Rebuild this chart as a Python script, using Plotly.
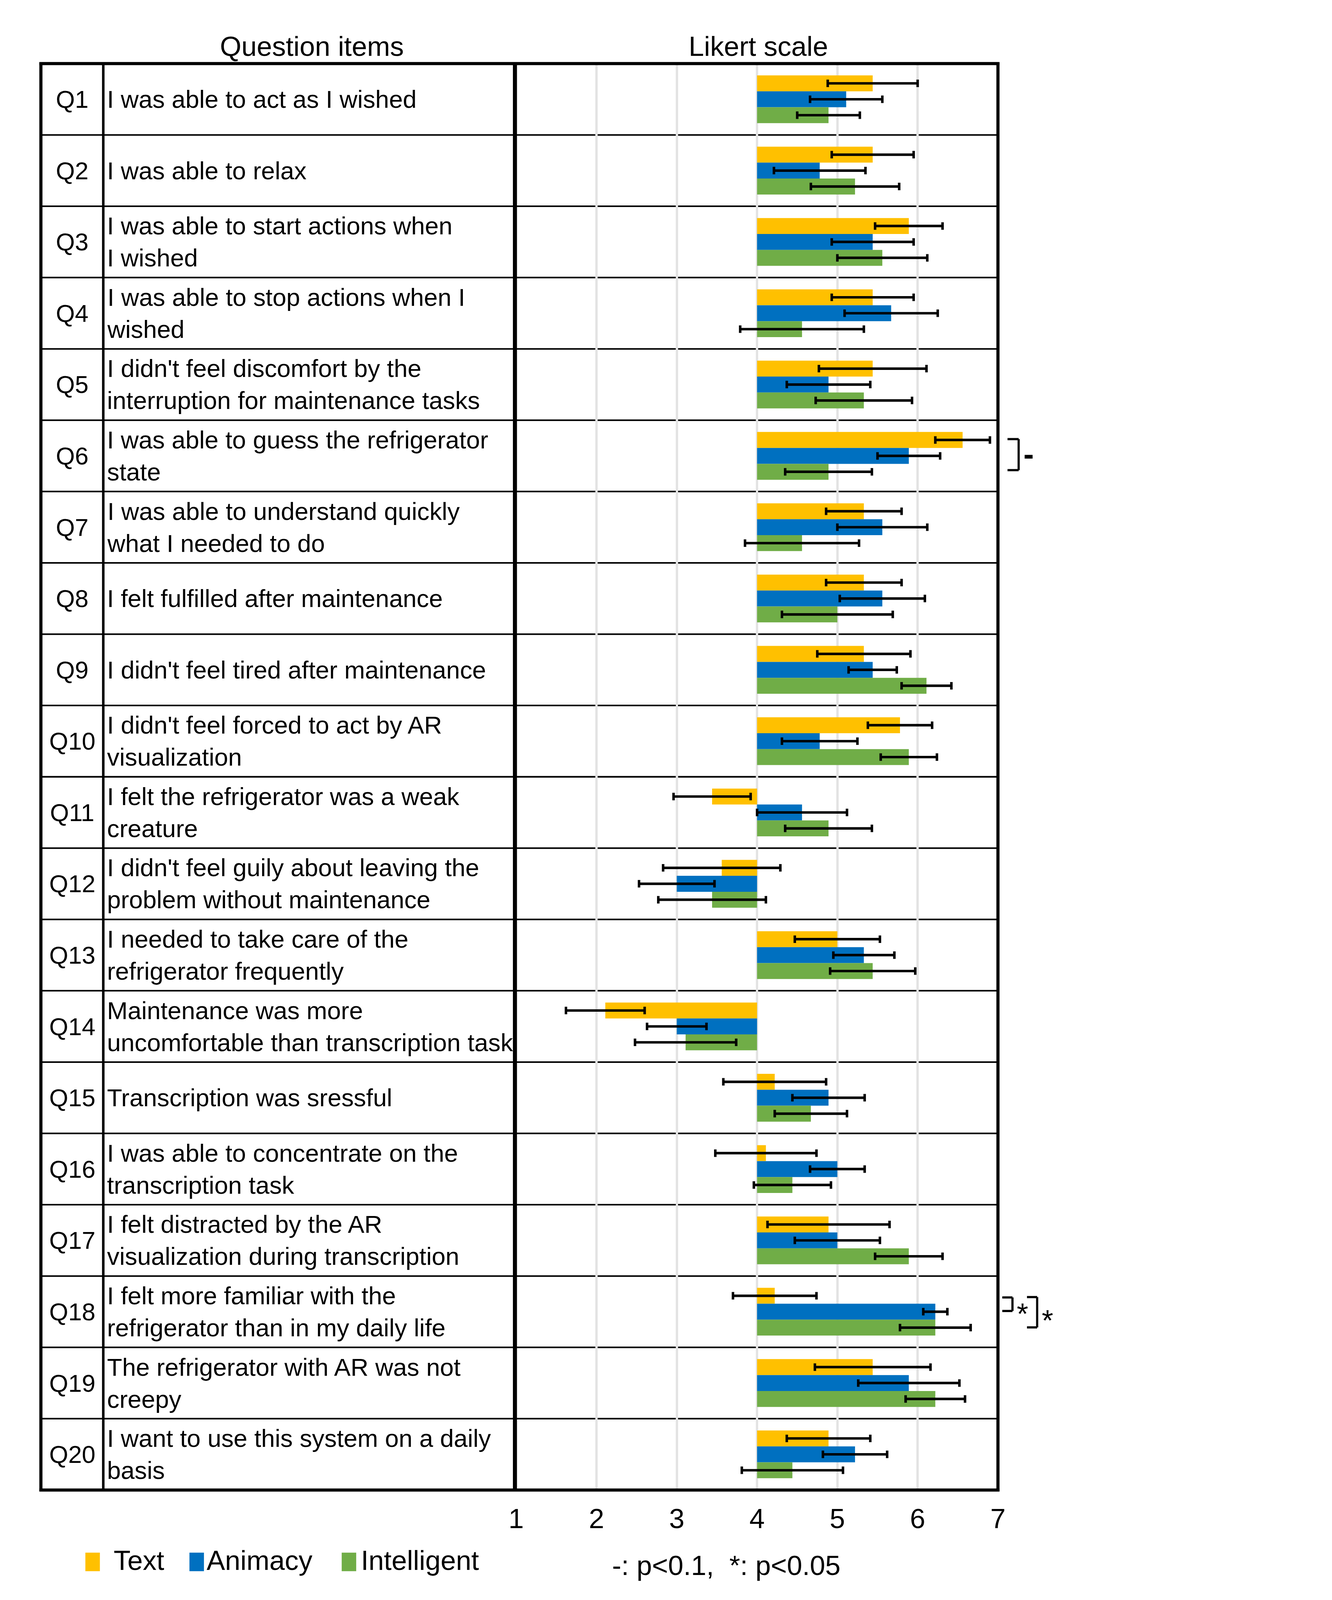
import plotly.graph_objects as go

# ---------------- data ----------------
questions = [f"Q{i}" for i in range(1, 21)]
question_texts = [
    "I was able to act as I wished",
    "I was able to relax",
    "I was able to start actions when<br>I wished",
    "I was able to stop actions when I<br>wished",
    "I didn't feel discomfort by the<br>interruption for maintenance tasks",
    "I was able to guess the refrigerator<br>state",
    "I was able to understand quickly<br>what I needed to do",
    "I felt fulfilled after maintenance",
    "I didn't feel tired after maintenance",
    "I didn't feel forced to act by AR<br>visualization",
    "I felt the refrigerator was a weak<br>creature",
    "I didn't feel guily about leaving the<br>problem without maintenance",
    "I needed to take care of the<br>refrigerator frequently",
    "Maintenance was more<br>uncomfortable than transcription task",
    "Transcription was sressful",
    "I was able to concentrate on the<br>transcription task",
    "I felt distracted by the AR<br>visualization during transcription",
    "I felt more familiar with the<br>refrigerator than in my daily life",
    "The refrigerator with AR was not<br>creepy",
    "I want to use this system on a daily<br>basis",
]
series_names = ["Text", "Animacy", "Intelligent"]
text_mean = [5.44, 5.44, 5.89, 5.44, 5.44, 6.56, 5.33, 5.33, 5.33, 5.78,
             3.44, 3.56, 5.00, 2.11, 4.22, 4.11, 4.89, 4.22, 5.44, 4.89]
text_err = [0.56, 0.51, 0.42, 0.51, 0.67, 0.34, 0.47, 0.47, 0.58, 0.40,
            0.48, 0.73, 0.53, 0.49, 0.64, 0.63, 0.76, 0.52, 0.72, 0.52]
anim_mean = [5.11, 4.78, 5.44, 5.67, 4.89, 5.89, 5.56, 5.56, 5.44, 4.78,
             4.56, 3.00, 5.33, 3.00, 4.89, 5.00, 5.00, 6.22, 5.89, 5.22]
anim_err = [0.45, 0.57, 0.51, 0.58, 0.52, 0.39, 0.56, 0.53, 0.30, 0.47,
            0.56, 0.47, 0.38, 0.37, 0.45, 0.34, 0.53, 0.15, 0.63, 0.40]
intel_mean = [4.89, 5.22, 5.56, 4.56, 5.33, 4.89, 4.56, 5.00, 6.11, 5.89,
              4.89, 3.44, 5.44, 3.11, 4.67, 4.44, 5.89, 6.22, 6.22, 4.44]
intel_err = [0.39, 0.55, 0.56, 0.77, 0.60, 0.54, 0.71, 0.69, 0.31, 0.35,
             0.54, 0.67, 0.53, 0.63, 0.45, 0.48, 0.42, 0.44, 0.37, 0.63]
colors = ["#FFC000", "#0070C0", "#70AD47"]
scale_ticks = [1, 2, 3, 4, 5, 6, 7]
neutral = 4

# ---------------- layout helpers ----------------
# Reference design grid is 3410 x 5085; the page viewport is only 4096 px tall,
# so the whole design is scaled uniformly to fit.
W_REF, H_REF = 3410, 5085
S = 4080 / H_REF
W, H = round(W_REF * S), round(H_REF * S)
FONT = "Liberation Sans, Arial, sans-serif"


def px(x):
    return x / W_REF


def py(y):
    return 1 - y / H_REF


def sz(v):
    return v * S


TABLE_L, QCOL_R, CHART_L, CHART_R = 97, 299, 1636, 3196
TOP, BOTTOM = 193, 4744

fig = go.Figure()
means = [text_mean, anim_mean, intel_mean]
errs = [text_err, anim_err, intel_err]
for name, m, e, c in zip(series_names, means, errs, colors):
    fig.add_trace(go.Bar(
        name=name, y=questions, x=[v - neutral for v in m], base=neutral,
        orientation="h", marker=dict(color=c, line=dict(width=0)),
        error_x=dict(type="data", array=e, color="black", thickness=sz(8), width=sz(12)),
        showlegend=False,
    ))

shapes = []
# row separators (below gridlines so the grey grid crosses them)
for k in range(1, 20):
    shapes.append(dict(type="line", xref="paper", yref="y",
                       x0=px(TABLE_L), x1=px(CHART_R), y0=k - 0.5, y1=k - 0.5,
                       line=dict(color="black", width=sz(5)), layer="below"))
# neutral line
shapes.append(dict(type="line", xref="x", yref="paper", x0=neutral, x1=neutral,
                   y0=py(BOTTOM), y1=py(TOP), line=dict(color="black", width=sz(5)),
                   layer="between"))
# vertical table lines
for xpos, w in [(TABLE_L, 10), (QCOL_R, 8), (1632, 13), (CHART_R, 10)]:
    shapes.append(dict(type="line", xref="paper", yref="paper",
                       x0=px(xpos), x1=px(xpos), y0=py(BOTTOM + 4), y1=py(TOP - 4),
                       line=dict(color="black", width=sz(w)), layer="above"))
# outer top / bottom
for ypos in [TOP, BOTTOM]:
    shapes.append(dict(type="line", xref="paper", yref="paper",
                       x0=px(TABLE_L - 5), x1=px(CHART_R + 5), y0=py(ypos), y1=py(ypos),
                       line=dict(color="black", width=sz(10)), layer="above"))


def bracket(x_in, x_out, y0, y1):
    out = []
    for a, b, c, d in [(x_in, x_out, y0, y0), (x_out, x_out, y0, y1), (x_in, x_out, y1, y1)]:
        out.append(dict(type="line", xref="paper", yref="y", x0=px(a), x1=px(b),
                        y0=c, y1=d, line=dict(color="black", width=sz(7))))
    return out


shapes += bracket(3227, 3263, 5 - 0.235, 5 + 0.20)      # Q6
shapes += bracket(3210, 3243, 17 - 0.20, 17 - 0.01)     # Q18 Text-Animacy
shapes += bracket(3290, 3323, 17 - 0.205, 17 + 0.22)    # Q18 Text-Intelligent

annotations = []
for q, t in zip(questions, question_texts):
    annotations.append(dict(xref="paper", yref="y", x=px((TABLE_L + QCOL_R) / 2), y=q,
                            text=q, showarrow=False, xanchor="center", yanchor="middle",
                            font=dict(size=sz(78), family=FONT, color="black")))
    annotations.append(dict(xref="paper", yref="y", x=px(308), y=q, text=t,
                            showarrow=False, xanchor="left", yanchor="middle", align="left",
                            font=dict(size=sz(79), family=FONT, color="black")))
# headers
annotations.append(dict(xref="paper", yref="paper", x=px(975), y=py(138), text="Question items",
                        showarrow=False, xanchor="center", yanchor="middle",
                        font=dict(size=sz(88), family=FONT, color="black")))
annotations.append(dict(xref="paper", yref="paper", x=px(2420), y=py(138), text="Likert scale",
                        showarrow=False, xanchor="center", yanchor="middle",
                        font=dict(size=sz(88), family=FONT, color="black")))
# significance marks
for txt, xx, yy, fs in [("<b>-</b>", 3295, 4.97, 100), ("*", 3275, 17.03, 94),
                        ("*", 3356, 17.12, 94)]:
    annotations.append(dict(xref="paper", yref="y", x=px(xx), y=yy, text=txt,
                            showarrow=False, xanchor="center", yanchor="middle",
                            font=dict(size=sz(fs), family=FONT, color="black")))
# custom legend (large swatches as in the reference)
legend_items = [(series_names[0], colors[0], 241, 330),
                (series_names[1], colors[1], 578, 631),
                (series_names[2], colors[2], 1071, 1131)]
for name, c, sx, tx in legend_items:
    shapes.append(dict(type="rect", xref="paper", yref="paper", x0=px(sx), x1=px(sx + 47),
                       y0=py(5003), y1=py(4944), fillcolor=c, line=dict(width=0)))
    annotations.append(dict(xref="paper", yref="paper", x=px(tx), y=py(4968), text=name,
                            showarrow=False, xanchor="left", yanchor="middle",
                            font=dict(size=sz(88), family=FONT, color="black")))
annotations.append(dict(xref="paper", yref="paper", x=px(2316), y=py(4985),
                        text="-: p<0.1,  *: p<0.05", showarrow=False,
                        xanchor="center", yanchor="middle",
                        font=dict(size=sz(88), family=FONT, color="black")))

fig.update_layout(
    width=W, height=H, margin=dict(l=0, r=0, t=0, b=0, pad=0),
    paper_bgcolor="white", plot_bgcolor="white",
    barmode="group", bargap=0.33, bargroupgap=0,
    font=dict(family=FONT, color="black"),
    shapes=shapes, annotations=annotations, showlegend=False,
    xaxis=dict(domain=[px(CHART_L), px(CHART_R)], range=[1, 7], tickvals=scale_ticks,
               showgrid=True, gridcolor="#e3e3e3", gridwidth=sz(7), zeroline=False,
               showline=False, ticks="", tickfont=dict(size=sz(88), family=FONT, color="black"),
               ticklabelstandoff=round(sz(32))),
    yaxis=dict(domain=[py(BOTTOM), py(TOP)], type="category", categoryorder="array",
               categoryarray=questions, range=[19.5, -0.5], showticklabels=False,
               showgrid=False, zeroline=False, showline=False),
)

fig.write_html("out.html")
